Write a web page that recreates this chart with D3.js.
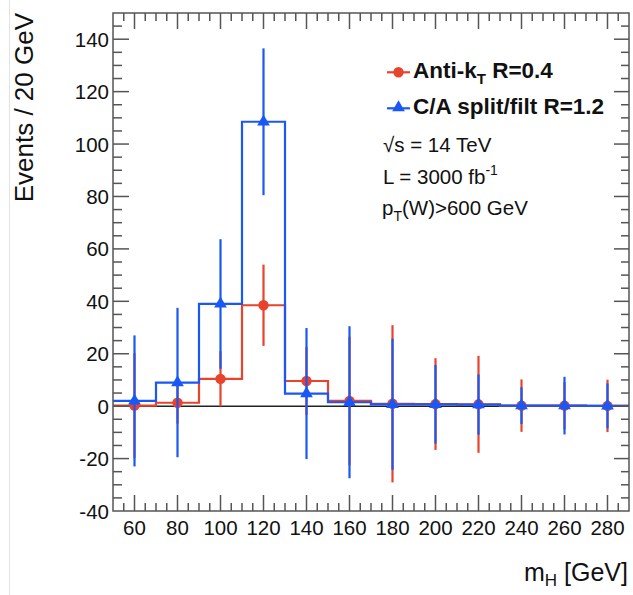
<!DOCTYPE html>
<html>
<head>
<meta charset="utf-8">
<script src="https://cdn.jsdelivr.net/npm/d3@7"></script>
<style>
  body { margin: 0; background: #fff; }
  svg { display: block; font-family: "Liberation Sans", Arial, Helvetica, sans-serif; }
</style>
</head>
<body>
<div id="app"></div>
<script>
// bin centres and edges (m_H in GeV)
var binCenters = [60, 80, 100, 120, 140, 160, 180, 200, 220, 240, 260, 280];
var binEdges = [50, 70, 90, 110, 130, 150, 170, 190, 210, 230, 250, 270, 290];

// Anti-kT R=0.4
var redValues = [0.2, 1.3, 10.4, 38.5, 9.6, 2.0, 0.9, 0.8, 0.7, 0.2, 0.2, 0.1];
var redErrors = [20, 8, 10.5, 15.5, 13, 24.5, 30, 17.5, 18.5, 10, 9, 10];

// C/A split/filt R=1.2
var blueValues = [2.0, 9.0, 39.0, 108.5, 4.8, 1.5, 0.7, 0.7, 0.6, 0.2, 0.2, 0.1];
var blueErrors = [25, 28.5, 24.7, 28, 25, 29, 25, 15, 11.5, 7, 11, 8.6];

var xTicks = [60, 80, 100, 120, 140, 160, 180, 200, 220, 240, 260, 280];
var yTicks = [-40, -20, 0, 20, 40, 60, 80, 100, 120, 140];

var width = 633, height = 595;
var red = '#e8432d', blue = '#1a58f5', axisColor = '#555';

var svg = d3.select('#app').append('svg')
  .attr('width', width)
  .attr('height', height);

// faint border line at far left of the screenshot
svg.append('line')
  .attr('x1', 9.5).attr('x2', 9.5).attr('y1', 0).attr('y2', height)
  .attr('stroke', '#e2e2e2').attr('stroke-width', 1);

var x = d3.scaleLinear().domain([50, 290]).range([113, 629]);
var y = d3.scaleLinear().domain([-40, 150]).range([511, 13]);

// zero line
svg.append('line')
  .attr('x1', x(50)).attr('x2', x(290))
  .attr('y1', y(0)).attr('y2', y(0))
  .attr('stroke', '#222').attr('stroke-width', 1.5);

var step = d3.line()
  .x(function (d) { return x(d[0]); })
  .y(function (d) { return y(d[1]); })
  .curve(d3.curveStepAfter);

function drawSeries(values, errors, color, marker) {
  var pts = values.map(function (v, i) { return [binEdges[i], v]; });
  pts.push([binEdges[binEdges.length - 1], values[values.length - 1]]);

  svg.append('path')
    .attr('d', step(pts))
    .attr('fill', 'none')
    .attr('stroke', color)
    .attr('stroke-width', 2.2);

  var g = svg.append('g');
  g.selectAll('line.err')
    .data(values)
    .enter()
    .append('line')
    .attr('class', 'err')
    .attr('x1', function (d, i) { return x(binCenters[i]); })
    .attr('x2', function (d, i) { return x(binCenters[i]); })
    .attr('y1', function (d, i) { return y(d - errors[i]); })
    .attr('y2', function (d, i) { return y(d + errors[i]); })
    .attr('stroke', color)
    .attr('stroke-width', 2.2);

  g.selectAll('path.mk')
    .data(values)
    .enter()
    .append('path')
    .attr('class', 'mk')
    .attr('d', marker)
    .attr('transform', function (d, i) {
      return 'translate(' + x(binCenters[i]) + ',' + y(d) + ')';
    })
    .attr('fill', color);
}

var circle = d3.symbol().type(d3.symbolCircle).size(85)();
var triangle = d3.symbol().type(d3.symbolTriangle).size(70)();

drawSeries(redValues, redErrors, red, circle);
drawSeries(blueValues, blueErrors, blue, triangle);

// frame + ticks (ROOT style, ticks inside on all four sides)
var axes = svg.append('g').attr('stroke', axisColor).attr('stroke-width', 1.5);
axes.append('rect')
  .attr('x', x(50)).attr('y', y(150))
  .attr('width', x(290) - x(50)).attr('height', y(-40) - y(150))
  .attr('fill', 'none');

var xMinor = d3.range(55, 290, 5);
var yMinor = d3.range(-35, 150, 5);

axes.selectAll('line.xt')
  .data(xMinor)
  .enter()
  .append('line')
  .attr('x1', function (d) { return x(d); })
  .attr('x2', function (d) { return x(d); })
  .attr('y1', y(-40))
  .attr('y2', function (d) { return y(-40) - (xTicks.indexOf(d) >= 0 ? 16 : 8); });
axes.selectAll('line.xtt')
  .data(xMinor)
  .enter()
  .append('line')
  .attr('x1', function (d) { return x(d); })
  .attr('x2', function (d) { return x(d); })
  .attr('y1', y(150))
  .attr('y2', function (d) { return y(150) + (xTicks.indexOf(d) >= 0 ? 16 : 8); });
axes.selectAll('line.yt')
  .data(yMinor)
  .enter()
  .append('line')
  .attr('y1', function (d) { return y(d); })
  .attr('y2', function (d) { return y(d); })
  .attr('x1', x(50))
  .attr('x2', function (d) { return x(50) + (yTicks.indexOf(d) >= 0 ? 16 : 9); });
axes.selectAll('line.ytr')
  .data(yMinor)
  .enter()
  .append('line')
  .attr('y1', function (d) { return y(d); })
  .attr('y2', function (d) { return y(d); })
  .attr('x1', x(290))
  .attr('x2', function (d) { return x(290) - (yTicks.indexOf(d) >= 0 ? 15 : 8); });

// tick labels
svg.append('g').selectAll('text')
  .data(xTicks)
  .enter()
  .append('text')
  .attr('x', function (d) { return x(d); })
  .attr('y', 535)
  .attr('text-anchor', 'middle')
  .attr('font-size', 20.5)
  .attr('fill', '#111')
  .text(function (d) { return d; });

svg.append('g').selectAll('text')
  .data(yTicks)
  .enter()
  .append('text')
  .attr('x', 109)
  .attr('y', function (d) { return y(d) + 7.5; })
  .attr('text-anchor', 'end')
  .attr('font-size', 20.5)
  .attr('fill', '#111')
  .text(function (d) { return d; });

// axis titles
svg.append('text')
  .attr('transform', 'translate(33,13) rotate(-90)')
  .attr('text-anchor', 'end')
  .attr('font-size', 26)
  .attr('fill', '#111')
  .text('Events / 20 GeV');

var xt = svg.append('text')
  .attr('x', 628).attr('y', 581)
  .attr('text-anchor', 'end')
  .attr('font-size', 25)
  .attr('fill', '#111');
xt.append('tspan').text('m');
xt.append('tspan').attr('font-size', 17).attr('dy', 5).text('H');
xt.append('tspan').attr('dy', -5).text(' [GeV]');

// legend
var leg = svg.append('g');
leg.append('line').attr('x1', 387).attr('x2', 410).attr('y1', 72.3).attr('y2', 72.3)
  .attr('stroke', red).attr('stroke-width', 2.2);
leg.append('path').attr('d', circle).attr('transform', 'translate(398.5,72.3)').attr('fill', red);
leg.append('line').attr('x1', 387).attr('x2', 410).attr('y1', 108.3).attr('y2', 108.3)
  .attr('stroke', blue).attr('stroke-width', 2.2);
leg.append('path').attr('d', triangle).attr('transform', 'translate(398.5,107.5)').attr('fill', blue);

var l1 = leg.append('text').attr('x', 413).attr('y', 77.5)
  .attr('font-size', 22.5).attr('font-weight', 'bold').attr('fill', '#111');
l1.append('tspan').text('Anti-k');
l1.append('tspan').attr('font-size', 15).attr('dy', 6).text('T');
l1.append('tspan').attr('dy', -6).text(' R=0.4');

leg.append('text').attr('x', 413).attr('y', 113.5)
  .attr('font-size', 22.5).attr('font-weight', 'bold').attr('fill', '#111')
  .text('C/A split/filt R=1.2');

var info = svg.append('g').attr('font-size', 20.5).attr('fill', '#111');
info.append('text').attr('x', 383).attr('y', 151.5).text('\u221As = 14 TeV');
var t2 = info.append('text').attr('x', 383).attr('y', 183.5);
t2.append('tspan').text('L = 3000 fb');
t2.append('tspan').attr('font-size', 14).attr('dy', -9).text('-1');
var t3 = info.append('text').attr('x', 382).attr('y', 215);
t3.append('tspan').text('p');
t3.append('tspan').attr('font-size', 14).attr('dy', 6).text('T');
t3.append('tspan').attr('dy', -6).text('(W)>600 GeV');
</script>
</body>
</html>
